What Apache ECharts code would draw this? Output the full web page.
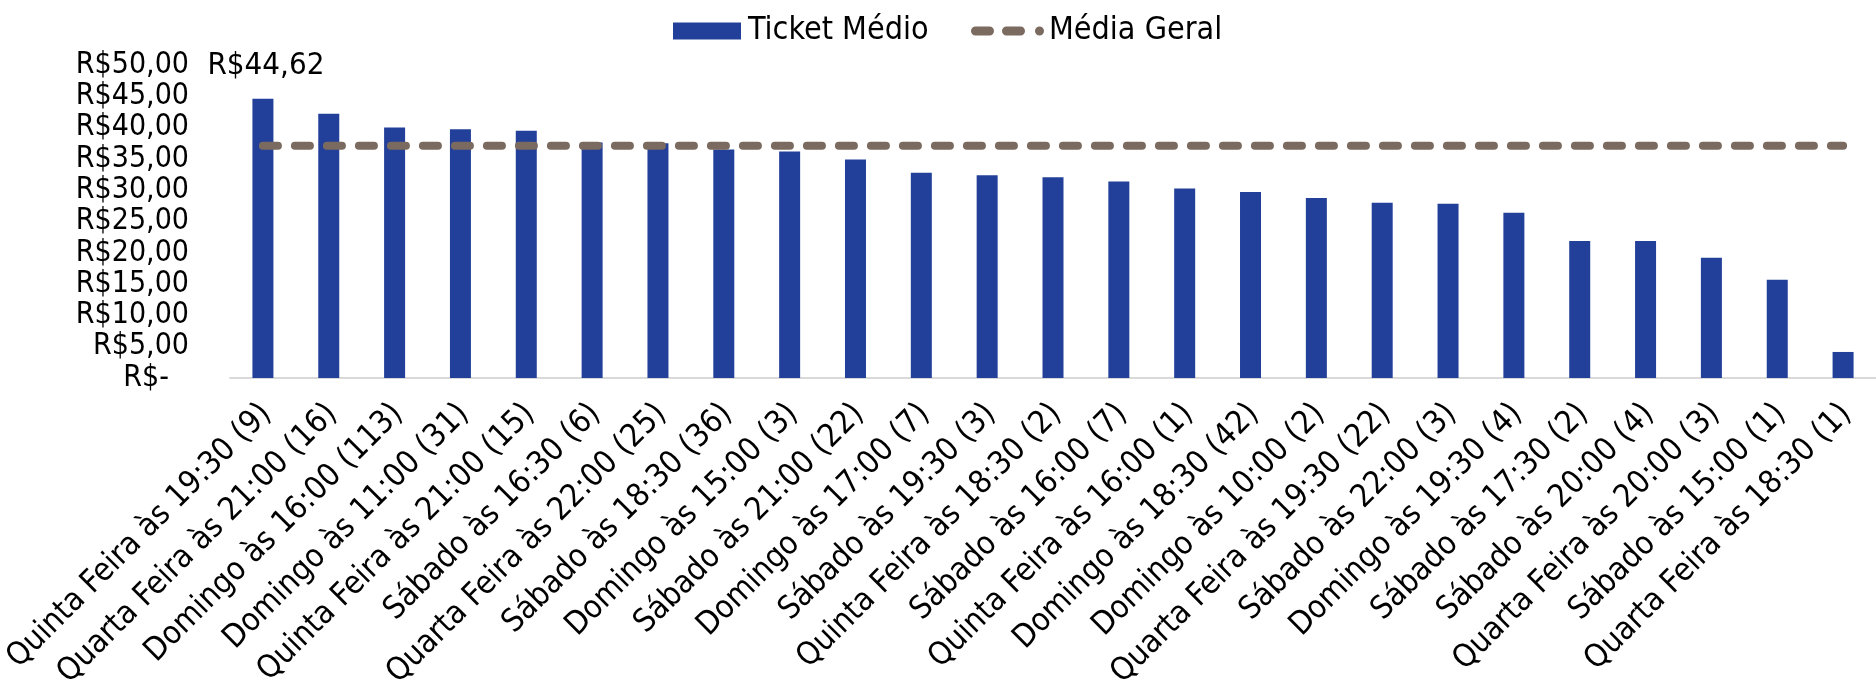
<!DOCTYPE html>
<html>
<head>
<meta charset="utf-8">
<script src="https://cdn.jsdelivr.net/npm/echarts@6/dist/echarts.min.js"></script>
<style>
html,body{margin:0;padding:0;background:#fff;}
#chart{width:1876px;height:681px;}
</style>
</head>
<body>
<div id="chart"></div>
<script>
const categories = [
  'Quinta Feira às 19:30 (9)',
  'Quarta Feira às 21:00 (16)',
  'Domingo às 16:00 (113)',
  'Domingo às 11:00 (31)',
  'Quinta Feira às 21:00 (15)',
  'Sábado às 16:30 (6)',
  'Quarta Feira às 22:00 (25)',
  'Sábado às 18:30 (36)',
  'Domingo às 15:00 (3)',
  'Sábado às 21:00 (22)',
  'Domingo às 17:00 (7)',
  'Sábado às 19:30 (3)',
  'Quinta Feira às 18:30 (2)',
  'Sábado às 16:00 (7)',
  'Quinta Feira às 16:00 (1)',
  'Domingo às 18:30 (42)',
  'Domingo às 10:00 (2)',
  'Quarta Feira às 19:30 (22)',
  'Sábado às 22:00 (3)',
  'Domingo às 19:30 (4)',
  'Sábado às 17:30 (2)',
  'Sábado às 20:00 (4)',
  'Quarta Feira às 20:00 (3)',
  'Sábado às 15:00 (1)',
  'Quarta Feira às 18:30 (1)'
];
const ticketMedio = [
  44.62, 42.2, 40.0, 39.75, 39.5, 37.6, 37.5, 36.5, 36.2, 34.9,
  32.8, 32.4, 32.07, 31.4, 30.26, 29.7, 28.76, 28.0, 27.85, 26.4,
  21.9, 21.88, 19.2, 15.7, 4.16
];
const mediaGeral = 37.1;
const labeledIndex = [0];
const yTicks = { min: 0, max: 50, interval: 5 };

const FONT = "'DejaVu Sans Condensed', 'Liberation Sans', sans-serif";
const LINE_COLOR = '#7a6a60';
const BAR_COLOR = '#22409a';
function brl(v) {
  return 'R$' + v.toFixed(2).replace('.', ',');
}

const dashIcon = 'path://' +
  'M4.5,0 H18.5 A4.5,4.5 0 0 1 18.5,9 H4.5 A4.5,4.5 0 0 1 4.5,0 Z ' +
  'M35.5,0 H49.5 A4.5,4.5 0 0 1 49.5,9 H35.5 A4.5,4.5 0 0 1 35.5,0 Z ' +
  'M64,4.5 A4.5,4.5 0 1 1 73,4.5 A4.5,4.5 0 1 1 64,4.5 Z';

const chart = echarts.init(document.getElementById('chart'));
chart.setOption({
  animation: false,
  backgroundColor: '#ffffff',
  textStyle: { fontFamily: FONT },
  legend: [
    {
      left: 668,
      top: 10,
      itemWidth: 68,
      itemHeight: 17,
      textStyle: { fontFamily: FONT, fontSize: 32, color: '#000', padding: [0, 0, 0, 2] },
      data: [{ name: 'Ticket Médio', icon: 'rect' }]
    },
    {
      left: 966,
      top: 10,
      itemWidth: 73,
      itemHeight: 9,
      textStyle: { fontFamily: FONT, fontSize: 32, color: '#000' },
      data: [{ name: 'Média Geral', icon: dashIcon, itemStyle: { color: LINE_COLOR } }]
    }
  ],
  grid: { left: 230, right: 0, top: 65, bottom: 303, containLabel: false, outerBoundsMode: 'none' },
  xAxis: {
    type: 'category',
    data: categories,
    axisLine: { show: true, lineStyle: { color: '#d9d9d9', width: 2 } },
    axisTick: { show: false },
    axisLabel: {
      interval: 0,
      rotate: 45,
      margin: 12,
      padding: [0, 11, 0, 0],
      verticalAlign: 'top',
      fontFamily: FONT,
      fontSize: 32,
      color: '#000'
    }
  },
  yAxis: {
    type: 'value',
    min: yTicks.min,
    max: yTicks.max,
    interval: yTicks.interval,
    splitLine: { show: false },
    axisLine: { show: false },
    axisTick: { show: false },
    axisLabel: {
      margin: 41,
      fontFamily: FONT,
      fontSize: 30,
      color: '#000',
      formatter: function (v) { return v === 0 ? '{z|R$-}' : brl(v); },
      rich: { z: { fontFamily: FONT, fontSize: 30, color: '#000', padding: [0, 20, 0, 0] } }
    }
  },
  series: [
    {
      name: 'Ticket Médio',
      type: 'bar',
      barWidth: 21,
      itemStyle: { color: BAR_COLOR },
      data: ticketMedio.map(function (v, i) {
        if (labeledIndex.indexOf(i) >= 0) {
          return {
            value: v,
            label: {
              show: true,
              position: 'top',
              distance: 17,
              offset: [3, 0],
              fontFamily: FONT,
              fontSize: 31,
              color: '#000',
              formatter: function (p) { return brl(p.value); }
            }
          };
        }
        return v;
      }),
      z: 2
    },
    {
      name: 'Média Geral',
      type: 'line',
      symbol: 'none',
      data: categories.map(function () { return mediaGeral; }),
      lineStyle: { color: LINE_COLOR, width: 8, type: [15, 17], cap: 'round' },
      itemStyle: { color: LINE_COLOR },
      z: 3
    }
  ]
});
</script>
</body>
</html>
